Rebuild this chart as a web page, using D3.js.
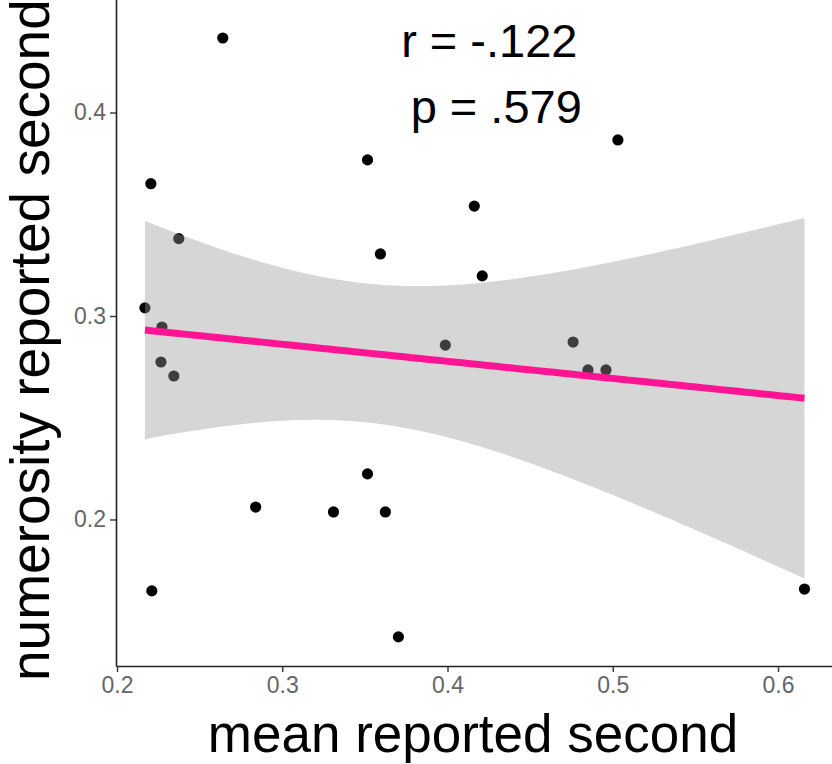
<!DOCTYPE html>
<html>
<head>
<meta charset="utf-8">
<script src="https://cdn.jsdelivr.net/npm/d3@7"></script>
<style>
  body { margin: 0; background: #fff; }
  svg { display: block; font-family: "Liberation Sans", Arial, sans-serif; }
</style>
</head>
<body>
<svg id="chart" width="832" height="764"></svg>
<script>
// mean reported second (x) vs numerosity reported second (y)
var meanSecond = [0.264, 0.2205, 0.3516, 0.5031, 0.4162, 0.2374, 0.3594, 0.421,
                  0.2169, 0.2272, 0.2266, 0.2344, 0.3987, 0.476, 0.485, 0.4959,
                  0.3516, 0.2839, 0.331, 0.3624, 0.2211, 0.3703, 0.616];
var numerositySecond = [0.4366, 0.365, 0.3767, 0.3865, 0.354, 0.338, 0.3305, 0.3197,
                        0.304, 0.2946, 0.2774, 0.2705, 0.2857, 0.2872, 0.2735, 0.2735,
                        0.2224, 0.2061, 0.2037, 0.2037, 0.1649, 0.1423, 0.1658];
var xTicks = [0.2, 0.3, 0.4, 0.5, 0.6];
var yTicks = [0.2, 0.3, 0.4];
var statLabels = ["r = -.122", "p = .579"];

var svg = d3.select("#chart");

var x = d3.scaleLinear().domain([0.1994, 0.6375]).range([116, 840]);
var y = d3.scaleLinear().domain([0.128, 0.46]).range([666, -9.6]);

// linear fit + 95% confidence band (like geom_smooth(method = "lm"))
function lmBand(xs, ys, nOut){
	var n = xs.length;
	var xbar = d3.mean(xs), ybar = d3.mean(ys);
	var sxx = 0, sxy = 0;
	for(var i=0;i<n;i++){
		sxx += (xs[i]-xbar)*(xs[i]-xbar);
		sxy += (xs[i]-xbar)*(ys[i]-ybar);
	}
	var b = sxy/sxx, a = ybar - b*xbar;
	var sse = 0;
	for(var i=0;i<n;i++){
		var e = ys[i] - (a + b*xs[i]);
		sse += e*e;
	}
	var s = Math.sqrt(sse/(n-2));
	var tcrit = 2.080; // t(0.975, df = 21)
	var lo = d3.min(xs), hi = d3.max(xs);
	var out = [];
	for(var k=0;k<nOut;k++){
		var xv = lo + (hi-lo)*k/(nOut-1);
		var fit = a + b*xv;
		var se = s*Math.sqrt(1/n + (xv-xbar)*(xv-xbar)/sxx);
		out.push({x: xv, fit: fit, lo: fit - tcrit*se, hi: fit + tcrit*se});
	}
	return out;
}

var band = lmBand(meanSecond, numerositySecond, 80);
var pts = meanSecond.map(function(d, i){ return [d, numerositySecond[i]]; });

// points
svg.append("g")
	.selectAll("circle")
	.data(pts)
	.enter()
		.append("circle")
		.attr("cx", function(d){ return x(d[0]); })
		.attr("cy", function(d){ return y(d[1]); })
		.attr("r", 5.6)
		.attr("fill", "#000");

// confidence ribbon on top of the points
svg.append("path")
	.datum(band)
	.attr("fill", "#999999")
	.attr("fill-opacity", 0.4)
	.attr("d", d3.area()
		.x(function(d){ return x(d.x); })
		.y0(function(d){ return y(d.lo); })
		.y1(function(d){ return y(d.hi); }));

svg.append("path")
	.datum(band)
	.attr("fill", "none")
	.attr("stroke", "#ff1493")
	.attr("stroke-width", 7)
	.attr("d", d3.line()
		.x(function(d){ return x(d.x); })
		.y(function(d){ return y(d.fit); }));

// axes
var xAxis = svg.append("g")
	.attr("transform", "translate(0,666)")
	.call(d3.axisBottom(x).tickValues(xTicks).tickSize(6).tickPadding(5)
		.tickFormat(d3.format(".1f")).tickSizeOuter(0));
var yAxis = svg.append("g")
	.attr("transform", "translate(116,0)")
	.call(d3.axisLeft(y).tickValues(yTicks).tickSize(6).tickPadding(4)
		.tickFormat(d3.format(".1f")).tickSizeOuter(0));

[xAxis, yAxis].forEach(function(g){
	g.select(".domain").attr("stroke", "#222").attr("stroke-width", 1.6);
	g.selectAll(".tick line").attr("stroke", "#333").attr("stroke-width", 1.4);
	g.selectAll(".tick text")
		.attr("fill", "#666")
		.style("font-size", "23px")
		.style("font-family", "'Liberation Sans', Arial, sans-serif");
});

// axis titles
svg.append("text")
	.attr("x", 473)
	.attr("y", 752)
	.attr("text-anchor", "middle")
	.style("font-size", "53px")
	.attr("fill", "#000")
	.text("mean reported second");

svg.append("text")
	.attr("transform", "translate(49,681) rotate(-90)")
	.attr("text-anchor", "start")
	.style("font-size", "55px")
	.attr("fill", "#000")
	.text("numerosity reported second");

// correlation annotation
var statPos = [[0.4253, 0.4356], [0.4295, 0.4027]];
svg.append("g")
	.selectAll("text")
	.data(statLabels)
	.enter()
		.append("text")
		.attr("x", function(d, i){ return x(statPos[i][0]); })
		.attr("y", function(d, i){ return y(statPos[i][1]); })
		.attr("dy", "0.35em")
		.attr("text-anchor", "middle")
		.style("font-size", "47px")
		.attr("fill", "#000")
		.text(function(d){ return d; });
</script>
</body>
</html>
